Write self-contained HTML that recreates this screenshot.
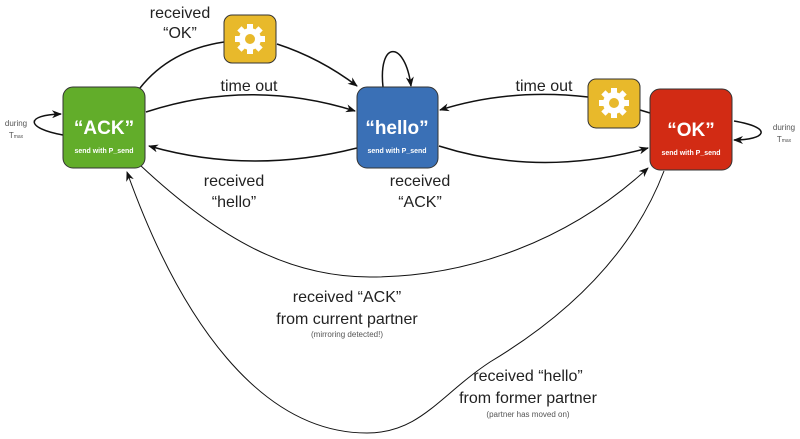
<!DOCTYPE html>
<html><head><meta charset="utf-8"><style>
body{margin:0;background:#fff}
svg{display:block;font-family:"Liberation Sans",sans-serif}
</style></head><body>
<svg width="800" height="439" viewBox="0 0 800 439">
<defs>
<marker id="a" markerWidth="10" markerHeight="8" refX="9" refY="4" orient="auto" markerUnits="userSpaceOnUse"><path d="M0,0 L10,4 L0,8 L3,4z" fill="#111"/></marker>
<g id="gear"><circle r="11" fill="#fff"/><g fill="#fff"><rect x="-3" y="-15" width="6" height="30"/><rect x="-3" y="-15" width="6" height="30" transform="rotate(45)"/><rect x="-3" y="-15" width="6" height="30" transform="rotate(90)"/><rect x="-3" y="-15" width="6" height="30" transform="rotate(135)"/></g><circle r="5" fill="#e8b92b"/></g>
</defs>
<g fill="none" stroke="#111" stroke-width="1.5">
<path d="M140,88 Q170,50 224,42"/>
<path d="M277,44 Q320,58 357,86" marker-end="url(#a)"/>
<path d="M146,112 Q250,78 355,111" marker-end="url(#a)"/>
<path d="M357,148 Q250,175 149,146" marker-end="url(#a)"/>
<path d="M383,87 C378,40 405,40 411,86" marker-end="url(#a)"/>
<path d="M588,97 Q510,88 440,110" marker-end="url(#a)"/>
<path d="M640,110 L650,113"/>
<path d="M439,146 Q540,178 648,148" marker-end="url(#a)"/>
<path d="M63,135 C25,128 25,115 61,114" marker-end="url(#a)"/>
<path d="M734,121 C775,128 765,140 734,140" marker-end="url(#a)"/>
</g>
<g fill="none" stroke="#111" stroke-width="1">
<path d="M140,165 C220,240 290,277 370,277 C470,277 570,240 648,168" marker-end="url(#a)"/>
<path d="M664,171 C630,260 560,320 490,362 C440,395 420,433 367,433 C260,433 180,320 127,172" marker-end="url(#a)"/>
</g>
<rect x="63" y="87" width="82" height="81" rx="10" fill="#62ad2a" stroke="#333" stroke-width="1"/>
<rect x="357" y="87" width="81" height="81" rx="10" fill="#3a70b6" stroke="#333" stroke-width="1"/>
<rect x="650" y="89" width="82" height="81" rx="10" fill="#d22b14" stroke="#333" stroke-width="1"/>
<rect x="224" y="15" width="52" height="48" rx="8" fill="#e8b92b" stroke="#333" stroke-width="1"/>
<rect x="588" y="79" width="52" height="49" rx="8" fill="#e8b92b" stroke="#333" stroke-width="1"/>
<use href="#gear" x="250" y="39"/>
<use href="#gear" x="614" y="103"/>
<g fill="#fff" font-weight="bold" text-anchor="middle">
<text x="104" y="134" font-size="19">“ACK”</text>
<text x="397" y="134" font-size="19">“hello”</text>
<text x="691" y="136" font-size="19">“OK”</text>
<text x="104" y="153" font-size="7">send with P_send</text>
<text x="397" y="153" font-size="7">send with P_send</text>
<text x="691" y="155" font-size="7">send with P_send</text>
</g>
<g fill="#222" font-size="16" text-anchor="middle">
<text x="180" y="18">received</text>
<text x="180" y="38">“OK”</text>
<text x="249" y="91">time out</text>
<text x="544" y="91">time out</text>
<text x="234" y="186">received</text>
<text x="234" y="207">“hello”</text>
<text x="420" y="186">received</text>
<text x="420" y="207">“ACK”</text>
<text x="347" y="302">received “ACK”</text>
<text x="347" y="324">from current partner</text>
<text x="528" y="381">received “hello”</text>
<text x="528" y="403">from former partner</text>
</g>
<g fill="#555" font-size="8" text-anchor="middle">
<text x="347" y="337">(mirroring detected!)</text>
<text x="528" y="417">(partner has moved on)</text>
<text x="16" y="126">during</text>
<text x="16" y="138">T<tspan font-size="5">max</tspan></text>
<text x="784" y="130">during</text>
<text x="784" y="142">T<tspan font-size="5">max</tspan></text>
</g>
</svg>
</body></html>
